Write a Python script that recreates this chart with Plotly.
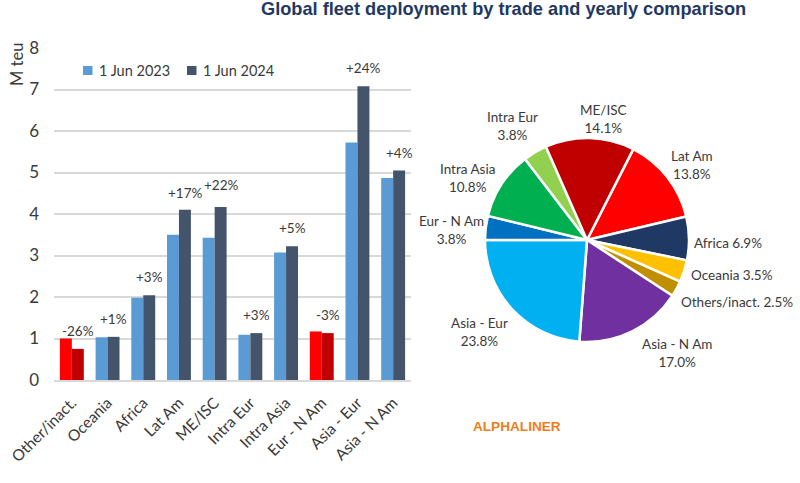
import plotly.graph_objects as go

W, H = 800, 483

# bar chart data (M teu)
trades = ['Other/inact.', 'Oceania', 'Africa', 'Lat Am', 'ME/ISC', 'Intra Eur', 'Intra Asia', 'Eur - N Am', 'Asia - Eur', 'Asia - N Am']
fleet_2023 = [1.0, 1.03, 1.98, 3.5, 3.43, 1.09, 3.07, 1.17, 5.72, 4.87]
fleet_2024 = [0.75, 1.04, 2.04, 4.1, 4.17, 1.13, 3.22, 1.13, 7.08, 5.05]
changes = ['-26%', '+1%', '+3%', '+17%', '+22%', '+3%', '+5%', '-3%', '+24%', '+4%']
change_y = [1.19, 1.47, 2.48, 4.5, 4.7, 1.57, 3.66, 1.57, 7.52, 5.47]

# pie data, clockwise from the top right
pie_labels = ['Lat Am', 'Africa', 'Oceania', 'Others/inact.', 'Asia - N Am', 'Asia - Eur', 'Eur - N Am', 'Intra Asia', 'Intra Eur', 'ME/ISC']
pie_values = [13.8, 6.9, 3.5, 2.5, 17.0, 23.8, 3.8, 10.8, 3.8, 14.1]
pie_colors = ['#FF0000', '#1F3864', '#FFC000', '#BF8F00', '#7030A0', '#00B0F0', '#0070C0', '#00B050', '#92D050', '#C00000']
pie_label_px = [(692, 165), (728, 243), (732, 275), (737, 302), (677, 353), (479, 332), (451, 230), (467, 178), (512, 126), (603, 119)]
one_line = ['Africa', 'Oceania', 'Others/inact.']

FONT = 'Lato'
TEXT = '#3a3a3a'
BLUE, NAVY, RED, DARK_RED = '#5B9BD5', '#44546A', '#FF0000', '#C00000'


def px_x(v):
    return v / W


def px_y(v):
    return 1 - v / H


def paper_note(x, y, text, xanchor='center', **kw):
    fig.add_annotation(xref='paper', yref='paper', x=px_x(x), y=px_y(y), text=text, showarrow=False,
                       xanchor=xanchor, yanchor='middle', **kw)


# bars that went down are drawn red
colors_2023 = [RED if b < a else BLUE for a, b in zip(fleet_2023, fleet_2024)]
colors_2024 = [DARK_RED if b < a else NAVY for a, b in zip(fleet_2023, fleet_2024)]

fig = go.Figure()
fig.add_trace(go.Bar(x=trades, y=fleet_2023, marker=dict(color=colors_2023, line_width=0), name='1 Jun 2023'))
fig.add_trace(go.Bar(x=trades, y=fleet_2024, marker=dict(color=colors_2024, line_width=0), name='1 Jun 2024'))

fig.add_trace(go.Pie(labels=pie_labels, values=pie_values, sort=False, direction='clockwise', rotation=27,
                     marker=dict(colors=pie_colors, line=dict(color='white', width=2.5)),
                     textinfo='none', hoverinfo='label+percent',
                     domain=dict(x=[px_x(485), px_x(689)], y=[px_y(342), px_y(138)])))

for t, label, y in zip(trades, changes, change_y):
    fig.add_annotation(x=t, y=y, text=label, showarrow=False, xshift=6, xanchor='center', yanchor='middle',
                       font=dict(size=13.5, color=TEXT, family=FONT))

for label, value, (x, y) in zip(pie_labels, pie_values, pie_label_px):
    sep = ' ' if label in one_line else '<br>'
    paper_note(x, y, f'{label}{sep}{value:.1f}%', font=dict(size=13.5, color=TEXT, family=FONT))

# hand made legend, the native one can't get the swatches this close to the text
for swatch_x, color, name in [(83, BLUE, '1 Jun 2023'), (187, NAVY, '1 Jun 2024')]:
    fig.add_shape(type='rect', xref='paper', yref='paper', x0=px_x(swatch_x), x1=px_x(swatch_x + 9.5),
                  y0=px_y(75), y1=px_y(66), fillcolor=color, line_width=0)
    paper_note(swatch_x + 13.5, 70.5, name, xanchor='left', font=dict(size=14.5, color=TEXT, family=FONT))

paper_note(17, 65, 'M teu', textangle=-90, font=dict(size=16.5, color=TEXT, family=FONT))
paper_note(503, 9, '<b>Global fleet deployment by trade and yearly comparison</b>',
           font=dict(size=18.2, color='#1F3864', family='Liberation Sans'))
paper_note(517, 426, '<b>ALPHALINER</b>', font=dict(size=13.6, color='#F07D1A', family='Liberation Sans'))

fig.update_layout(width=W, height=H, autosize=False, margin=dict(l=0, r=0, t=0, b=0), showlegend=False,
                  paper_bgcolor='white', plot_bgcolor='white', barmode='group', bargap=0.33, bargroupgap=0,
                  font=dict(family=FONT, color=TEXT),
                  xaxis=dict(domain=[px_x(54), px_x(411)], range=[-0.5, 9.5], tickangle=-45, tickfont=dict(size=15.5, color=TEXT),
                             automargin=False, ticklabelstandoff=6, showline=True, linecolor='#d9d9d9', linewidth=1.5, ticks='',
                             categoryorder='array', categoryarray=trades),
                  yaxis=dict(domain=[px_y(380), px_y(48)], range=[0, 8], dtick=1, tickfont=dict(size=17, color=TEXT), automargin=False,
                             ticklabelstandoff=14, gridcolor='#d9d9d9', gridwidth=1.5, zeroline=False, ticks='', ticklen=0))

# the page's default body margin would shift everything by 8px
fig.write_html("out.html", config=dict(displayModeBar=False), post_script="document.body.style.margin='0';")
